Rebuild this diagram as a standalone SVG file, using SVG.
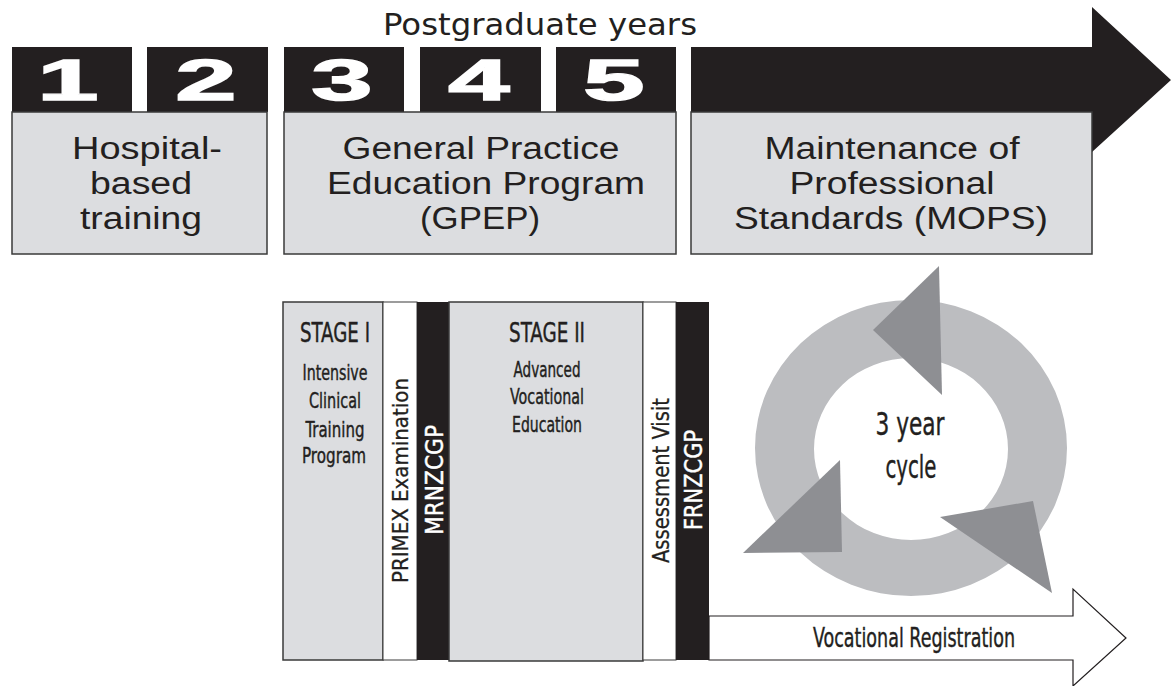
<svg xmlns="http://www.w3.org/2000/svg" width="1171" height="686" viewBox="0 0 1171 686">
<style>
.blk{fill:#231f20}
.box{fill:#dcdde0;stroke:#3a3a3a;stroke-width:1.5}
.wcol{fill:#ffffff;stroke:#3a3a3a;stroke-width:1}
.digit{font-family:"Liberation Sans",Arial,sans-serif;font-weight:bold;font-size:58px;fill:#ffffff;stroke:#ffffff;stroke-width:1.5;text-anchor:middle}
.lbl{font-family:"Liberation Sans",Arial,sans-serif;font-size:31px;fill:#231f20;text-anchor:middle}
.cond{font-family:"DejaVu Sans Condensed","Liberation Sans Narrow","DejaVu Sans",sans-serif;font-stretch:condensed;fill:#231f20;stroke:#231f20;stroke-width:0.4;text-anchor:middle}
.vert{font-family:"DejaVu Sans Condensed","Liberation Sans Narrow","DejaVu Sans",sans-serif;font-stretch:condensed;text-anchor:start}
</style>

<g id="title">
<text x="540" y="35" font-size="30" fill="#231f20" text-anchor="middle" textLength="314" lengthAdjust="spacingAndGlyphs" font-family="'DejaVu Sans','Liberation Sans',sans-serif">Postgraduate years</text>
</g>

<g id="timeline">
<polygon class="blk" points="691,47 1092,47 1092,7 1171,80 1092,152 1092,112 691,112"/>
<rect class="blk" x="12" y="47" width="120" height="65"/>
<rect class="blk" x="147" y="47" width="121" height="65"/>
<rect class="blk" x="284" y="47" width="120" height="65"/>
<rect class="blk" x="420" y="47" width="121" height="65"/>
<rect class="blk" x="556" y="47" width="120" height="65"/>
<text class="digit" transform="translate(68,100) scale(1.9,1)">1</text>
<text class="digit" transform="translate(206,100) scale(1.9,1)">2</text>
<text class="digit" transform="translate(342,100) scale(1.9,1)">3</text>
<text class="digit" transform="translate(479,100) scale(1.9,1)">4</text>
<text class="digit" transform="translate(614,100) scale(1.9,1)">5</text>
</g>

<g id="hospital">
<rect class="box" x="12" y="112" width="255" height="142"/>
<text class="lbl" x="147" y="159" textLength="150" lengthAdjust="spacingAndGlyphs">Hospital-</text>
<text class="lbl" x="141" y="194" textLength="102" lengthAdjust="spacingAndGlyphs">based</text>
<text class="lbl" x="141" y="229" textLength="122" lengthAdjust="spacingAndGlyphs">training</text>
</g>

<g id="gpep">
<rect class="box" x="284" y="112" width="392" height="142"/>
<text class="lbl" x="481" y="159" textLength="277" lengthAdjust="spacingAndGlyphs">General Practice</text>
<text class="lbl" x="486" y="194" textLength="318" lengthAdjust="spacingAndGlyphs">Education Program</text>
<text class="lbl" x="480" y="229" textLength="120" lengthAdjust="spacingAndGlyphs">(GPEP)</text>
</g>

<g id="mops">
<rect class="box" x="691" y="112" width="401" height="142"/>
<text class="lbl" x="892" y="159" textLength="255" lengthAdjust="spacingAndGlyphs">Maintenance of</text>
<text class="lbl" x="892" y="194" textLength="205" lengthAdjust="spacingAndGlyphs">Professional</text>
<text class="lbl" x="891" y="229" textLength="314" lengthAdjust="spacingAndGlyphs">Standards (MOPS)</text>
</g>

<g id="stage1">
<rect class="box" x="283" y="302" width="100" height="358"/>
<text class="cond" x="335" y="342" font-size="27" textLength="70" lengthAdjust="spacingAndGlyphs">STAGE I</text>
<text class="cond" x="335" y="380" font-size="21" textLength="65" lengthAdjust="spacingAndGlyphs">Intensive</text>
<text class="cond" x="335" y="408" font-size="21" textLength="52" lengthAdjust="spacingAndGlyphs">Clinical</text>
<text class="cond" x="335" y="437" font-size="21" textLength="59" lengthAdjust="spacingAndGlyphs">Training</text>
<text class="cond" x="334" y="463" font-size="21" textLength="64" lengthAdjust="spacingAndGlyphs">Program</text>
</g>

<g id="primex">
<rect class="wcol" x="383" y="302" width="34" height="358"/>
<text class="vert" transform="translate(408,583) rotate(-90)" font-size="22" fill="#231f20" stroke="#231f20" stroke-width="0.3" textLength="205" lengthAdjust="spacingAndGlyphs">PRIMEX Examination</text>
</g>

<g id="mrnzcgp">
<rect class="blk" x="417" y="302" width="32" height="358"/>
<text class="vert" transform="translate(443,535) rotate(-90)" font-size="24" fill="#ffffff" stroke="#ffffff" stroke-width="0.4" textLength="110" lengthAdjust="spacingAndGlyphs">MRNZCGP</text>
</g>

<g id="stage2">
<rect class="box" x="449" y="302" width="194" height="359"/>
<text class="cond" x="547" y="342" font-size="27" textLength="76" lengthAdjust="spacingAndGlyphs">STAGE II</text>
<text class="cond" x="547" y="377" font-size="21" textLength="67" lengthAdjust="spacingAndGlyphs">Advanced</text>
<text class="cond" x="547" y="404" font-size="21" textLength="74" lengthAdjust="spacingAndGlyphs">Vocational</text>
<text class="cond" x="547" y="432" font-size="21" textLength="70" lengthAdjust="spacingAndGlyphs">Education</text>
</g>

<g id="assessment">
<rect class="wcol" x="643" y="302" width="33" height="358"/>
<text class="vert" transform="translate(669,563) rotate(-90)" font-size="23" fill="#231f20" stroke="#231f20" stroke-width="0.3" textLength="165" lengthAdjust="spacingAndGlyphs">Assessment Visit</text>
</g>

<g id="frnzcgp">
<rect class="blk" x="676" y="302" width="33" height="358"/>
<text class="vert" transform="translate(702,530) rotate(-90)" font-size="24" fill="#ffffff" stroke="#ffffff" stroke-width="0.4" textLength="100" lengthAdjust="spacingAndGlyphs">FRNZCGP</text>
</g>

<g id="cycle">
<path fill="#bcbdc0" fill-rule="evenodd" d="M755,448 a156,148 0 1,0 312,0 a156,148 0 1,0 -312,0 Z M814,449 a97,91 0 1,0 194,0 a97,91 0 1,0 -194,0 Z"/>
<text class="cond" x="910" y="435" font-size="32" textLength="69" lengthAdjust="spacingAndGlyphs">3 year</text>
<text class="cond" x="911" y="478" font-size="32" textLength="51" lengthAdjust="spacingAndGlyphs">cycle</text>
</g>

<g id="connectors">
<polygon fill="#8e8f93" points="873,330 939,266 942,395"/>
<polygon fill="#8e8f93" points="743,553 840,460 842,552"/>
<polygon fill="#8e8f93" points="940,517 1033,501 1052,593"/>
<polygon fill="#ffffff" stroke="#231f20" stroke-width="1.2" points="709,616 1073,616 1073,589 1126,638 1073,686 1073,660 709,660"/>
<text class="cond" x="914" y="647" font-size="27" textLength="202" lengthAdjust="spacingAndGlyphs">Vocational Registration</text>
</g>
</svg>
